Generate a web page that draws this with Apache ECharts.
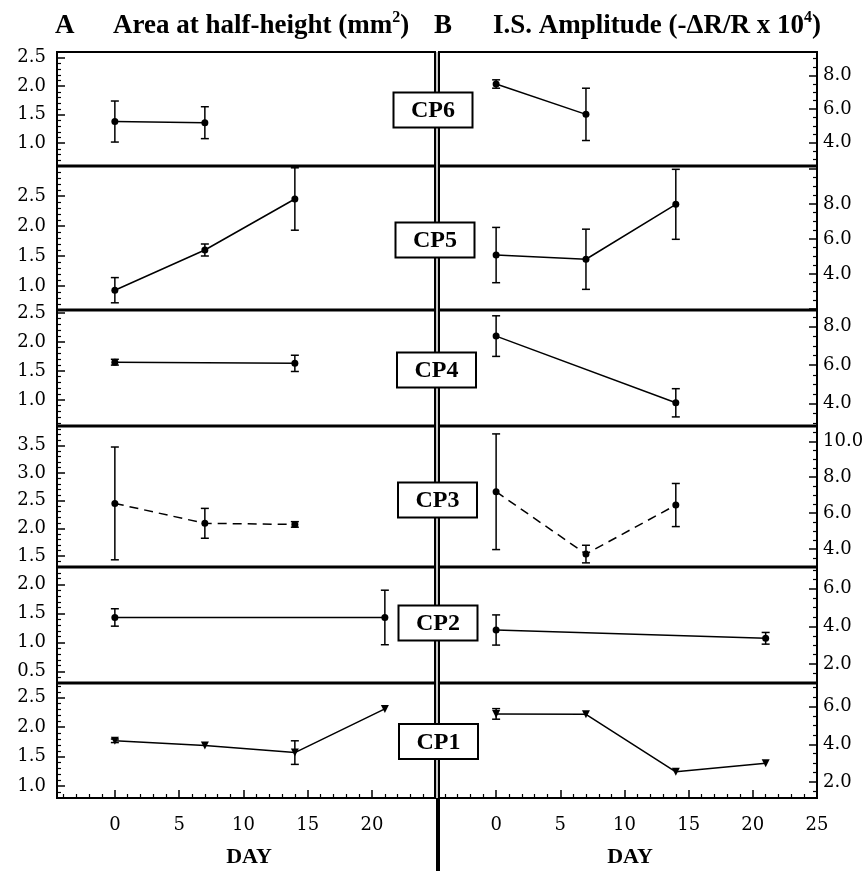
<!DOCTYPE html>
<html>
<head>
<meta charset="utf-8">
<title>Area at half-height and I.S. amplitude</title>
<script src="https://cdn.jsdelivr.net/npm/echarts@6.0.0/dist/echarts.min.js"></script>
<style>
  html, body { margin: 0; padding: 0; background: #fff; }
  #chart { width: 865px; height: 871px; }
</style>
</head>
<body>
<div id="chart"></div>
<script>
// ---- values (mean and +/- error) ----
const rowNames = ["CP6", "CP5", "CP4", "CP3", "CP2", "CP1"];

const cp6Days = [0, 7];
const cp6Area = [1.38, 1.36];
const cp6AreaErr = [0.36, 0.28];
const cp6Amp = [7.49, 5.68];
const cp6AmpErr = [0.25, 1.56];

const cp5Days = [0, 7, 14];
const cp5Area = [0.93, 1.6, 2.45];
const cp5AreaErr = [0.21, 0.1, 0.52];
const cp5Amp = [5.08, 4.84, 7.98];
const cp5AmpErr = [1.58, 1.72, 2.0];

const cp4Days = [0, 14];
const cp4Area = [1.65, 1.63];
const cp4AreaErr = [0.05, 0.14];
const cp4Amp = [7.5, 4.05];
const cp4AmpErr = [1.05, 0.73];

const cp3Days = [0, 7, 14];
const cp3Area = [2.45, 2.09, 2.07];
const cp3AreaErr = [1.02, 0.27, 0.05];
const cp3Amp = [7.19, 3.72, 6.45];
const cp3AmpErr = [3.22, 0.49, 1.2];

const cp2Days = [0, 21];
const cp2Area = [1.43, 1.43];
const cp2AreaErr = [0.15, 0.47];
const cp2Amp = [3.81, 3.37];
const cp2AmpErr = [0.8, 0.31];

const cp1Days = [0, 7, 14, 21];
const cp1Area = [1.77, 1.69, 1.57, 2.31];
const cp1AreaErr = [0.03, 0, 0.2, 0];
const cp1Amp = [5.61, 5.59, 2.54, 2.99];
const cp1AmpErr = [0.28, 0, 0, 0];

// axis ranges and labelled ticks, top row first
const areaMin = [0.6, 0.6, 0.55, 1.3, 0.3, 0.8];
const areaMax = [2.6, 3.0, 2.55, 3.85, 2.3, 2.75];
const areaTicks = [
  [1.0, 1.5, 2.0, 2.5], [1.0, 1.5, 2.0, 2.5], [1.0, 1.5, 2.0, 2.5],
  [1.5, 2.0, 2.5, 3.0, 3.5], [0.5, 1.0, 1.5, 2.0], [1.0, 1.5, 2.0, 2.5]
];
const ampMin = [2.6, 1.94, 2.85, 3.0, 1.0, 1.15];
const ampMax = [9.4, 10.17, 8.85, 10.85, 7.15, 7.25];
const ampTicks = [
  [4, 6, 8], [4, 6, 8], [4, 6, 8], [4, 6, 8, 10], [2, 4, 6], [2, 4, 6]
];
const dayRange = [[-4.5, 24.9], [-4.45, 25]];
const dayTicks = [[0, 5, 10, 15, 20], [0, 5, 10, 15, 20, 25]];

// ---- layout ----
const rowEdges = [52, 166, 310, 426, 567, 683, 798];
const panelLeft = [57, 439];
const panelWidth = 378;
const boxX = [433, 435, 436.5, 437.5, 438, 438.5];
const boxY = [110, 240, 370, 500, 623, 741.5];
const SERIF = "Liberation Serif";
const NUMFONT = "DejaVu Serif";

const rows = [
  { days: cp6Days, vals: [cp6Area, cp6Amp], errs: [cp6AreaErr, cp6AmpErr] },
  { days: cp5Days, vals: [cp5Area, cp5Amp], errs: [cp5AreaErr, cp5AmpErr] },
  { days: cp4Days, vals: [cp4Area, cp4Amp], errs: [cp4AreaErr, cp4AmpErr] },
  { days: cp3Days, vals: [cp3Area, cp3Amp], errs: [cp3AreaErr, cp3AmpErr], dashed: true },
  { days: cp2Days, vals: [cp2Area, cp2Amp], errs: [cp2AreaErr, cp2AmpErr] },
  { days: cp1Days, vals: [cp1Area, cp1Amp], errs: [cp1AreaErr, cp1AmpErr], triangle: true }
];

const near = (list, v) => list.some(t => Math.abs(t - v) < 1e-6);

function renderErr(params, api) {
  const x = api.value(0);
  const top = api.coord([x, api.value(2)]);
  const bot = api.coord([x, api.value(1)]);
  const w = 4;
  const st = { stroke: "#000", lineWidth: 1.5 };
  return {
    type: "group",
    children: [
      { type: "line", shape: { x1: top[0], y1: top[1], x2: bot[0], y2: bot[1] }, style: st },
      { type: "line", shape: { x1: top[0] - w, y1: top[1], x2: top[0] + w, y2: top[1] }, style: st },
      { type: "line", shape: { x1: bot[0] - w, y1: bot[1], x2: bot[0] + w, y2: bot[1] }, style: st }
    ]
  };
}

const grids = [], xAxes = [], yAxes = [], series = [];

rows.forEach((row, r) => {
  [0, 1].forEach(s => {
    const g = grids.length;
    grids.push({
      left: panelLeft[s], top: rowEdges[r], width: panelWidth,
      height: rowEdges[r + 1] - rowEdges[r],
      show: true, borderColor: "#000", borderWidth: 2,
      outerBoundsMode: "none"
    });
    xAxes.push({
      gridIndex: g, type: "value",
      min: dayRange[s][0], max: dayRange[s][1],
      minInterval: 5, maxInterval: 5,
      show: r === 5,
      splitLine: { show: false },
      axisLine: { show: true, onZero: false, lineStyle: { color: "#000", width: 2 } },
      axisTick: { show: true, inside: true, length: 8, lineStyle: { color: "#000", width: 1.5 } },
      minorTick: { show: true, splitNumber: 5, length: 4, lineStyle: { color: "#000", width: 1.2 } },
      axisLabel: {
        margin: 18, color: "#000", fontFamily: NUMFONT, fontSize: 18,
        formatter: v => near(dayTicks[s], v) ? String(v) : ""
      }
    });
    const ticks = s ? ampTicks[r] : areaTicks[r];
    yAxes.push({
      gridIndex: g, type: "value", position: s ? "right" : "left",
      min: s ? ampMin[r] : areaMin[r], max: s ? ampMax[r] : areaMax[r],
      minInterval: s ? 2 : 0.5, maxInterval: s ? 2 : 0.5,
      splitLine: { show: false },
      axisLine: { show: true, onZero: false, lineStyle: { color: "#000", width: 2 } },
      axisTick: { show: true, inside: true, length: 8, lineStyle: { color: "#000", width: 1.5 } },
      minorTick: { show: true, splitNumber: s ? 4 : 5, length: 4, lineStyle: { color: "#000", width: 1.2 } },
      axisLabel: {
        margin: s ? 6 : 11, color: "#000", fontFamily: NUMFONT, fontSize: 18,
        formatter: v => near(ticks, v) ? v.toFixed(1) : ""
      }
    });
    const vals = row.vals[s], errs = row.errs[s];
    series.push({
      type: "line", xAxisIndex: g, yAxisIndex: g,
      data: row.days.map((d, i) => [d, vals[i]]),
      symbol: row.triangle ? "triangle" : "circle",
      symbolRotate: row.triangle ? 180 : 0,
      symbolSize: row.triangle ? 8 : 7,
      itemStyle: { color: "#000" },
      lineStyle: { color: "#000", width: 1.5, type: row.dashed ? [9, 6] : "solid" },
      animation: false, z: 3
    });
    series.push({
      type: "custom", xAxisIndex: g, yAxisIndex: g,
      data: row.days.map((d, i) => [d, vals[i] - errs[i], vals[i] + errs[i]])
        .filter((_, i) => errs[i] > 0),
      renderItem: renderErr, clip: true, animation: false, z: 2
    });
  });
});

const titleRich = {
  t: { fontFamily: SERIF, fontWeight: "bold", fontSize: 27, fill: "#000", color: "#000", lineHeight: 32 },
  s: { fontFamily: SERIF, fontWeight: "bold", fontSize: 16, fill: "#000", color: "#000", lineHeight: 16, verticalAlign: "top" }
};
const textStyle = (extra) => Object.assign({
  fontFamily: SERIF, fontWeight: "bold", fill: "#000",
  align: "left", textAlign: "left", verticalAlign: "middle", textVerticalAlign: "middle"
}, extra);

const graphics = [
  // double divider between the two panels
  { type: "rect", shape: { x: 436, y: 52, width: 2, height: 746 }, style: { fill: "#c8c8c8" }, z: 50 },
  { type: "rect", shape: { x: 436, y: 798, width: 4, height: 73 }, style: { fill: "#000" }, z: 50 },
  { type: "text", x: 55, y: 26, style: textStyle({ text: "A", fontSize: 27 }) },
  { type: "text", x: 113, y: 26, style: textStyle({ text: "{t|Area at half-height (mm}{s|2}{t|)}", rich: titleRich }) },
  { type: "text", x: 434, y: 26, style: textStyle({ text: "B", fontSize: 27 }) },
  { type: "text", x: 493, y: 26, style: textStyle({ text: "{t|I.S. Amplitude (-\u0394R/R x 10}{s|4}{t|)}", rich: titleRich }) },
  { type: "text", x: 249, y: 857, style: textStyle({ text: "DAY", fontSize: 22, align: "center", textAlign: "center" }) },
  { type: "text", x: 630, y: 857, style: textStyle({ text: "DAY", fontSize: 22, align: "center", textAlign: "center" }) }
];
// heavier rules between the rows
rowEdges.slice(1, -1).forEach(y => {
  graphics.push({
    type: "line", z: 40,
    shape: { x1: panelLeft[0], y1: y, x2: panelLeft[1] + panelWidth, y2: y },
    style: { stroke: "#000", lineWidth: 3 }
  });
});
rowNames.forEach((name, r) => {
  graphics.push({
    type: "rect", z: 100,
    shape: { x: boxX[r] - 39.5, y: boxY[r] - 17.5, width: 79, height: 35 },
    style: { fill: "#fff", stroke: "#000", lineWidth: 2 }
  });
  graphics.push({
    type: "text", z: 101, x: boxX[r], y: boxY[r] + 1,
    style: textStyle({ text: name, fontSize: 24, align: "center", textAlign: "center" })
  });
});

const chart = echarts.init(document.getElementById("chart"));
chart.setOption({
  backgroundColor: "#fff",
  animation: false,
  grid: grids,
  xAxis: xAxes,
  yAxis: yAxes,
  series: series,
  graphic: { elements: graphics }
});
</script>
</body>
</html>
